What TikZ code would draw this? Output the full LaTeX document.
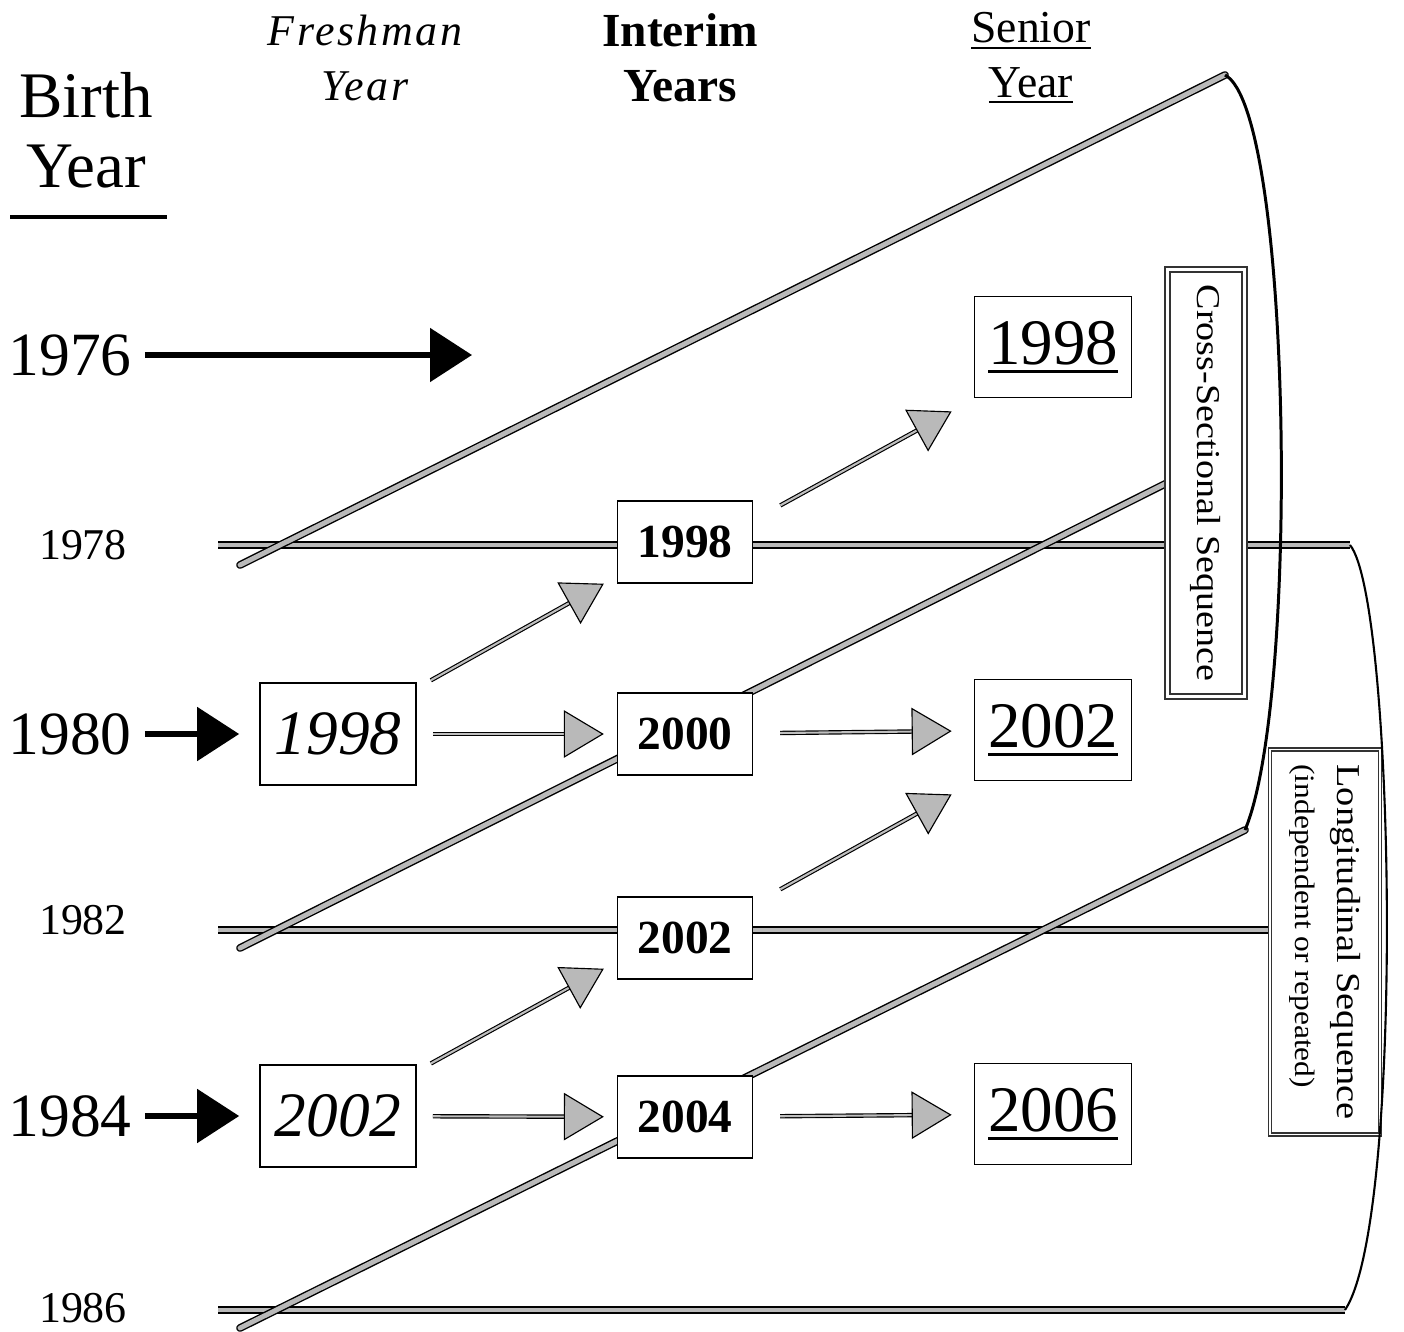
\documentclass[tikz,border=0pt]{standalone}
\usepackage{fontspec}
\setmainfont{Liberation Serif}
\usetikzlibrary{arrows.meta,positioning,backgrounds}
% underline with a heavier rule
\newcommand\senul[1]{\leavevmode\setbox0=\hbox{#1}\rlap{\rule[-0.13em]{\wd0}{0.05em}}\box0}
\tikzset{
  % year boxes
  frbox/.style={
    rectangle, draw=black, line width=1pt, fill=white,
    minimum width=3.12cm, minimum height=2.04cm, inner sep=0pt,
    font=\fontsize{36}{40}\selectfont\itshape},
  imbox/.style={
    rectangle, draw=black, line width=0.8pt, fill=white,
    minimum width=2.7cm, minimum height=1.64cm, inner sep=0pt,
    font=\fontsize{27}{30}\selectfont\bfseries},
  srbox/.style={
    rectangle, draw=black, line width=1pt, fill=white,
    minimum width=3.14cm, minimum height=2.02cm, inner sep=0pt,
    font=\fontsize{37}{40}\selectfont},
  % side labels
  sidebox/.style={
    rectangle, rotate=-90, draw=black!80, line width=0.7pt,
    double=white, double distance=2.2pt, fill=white, inner sep=0pt,
    font=\fontsize{19}{21}\selectfont},
  % birth years
  bigyear/.style={font=\fontsize{35}{38}\selectfont, inner sep=0pt},
  smallyear/.style={font=\fontsize{25}{28}\selectfont, inner sep=0pt},
  head/.style={font=\fontsize{25}{31}\selectfont, inner sep=0pt, align=center},
  % lines
  band/.style={draw=black, line width=0.8pt, double=gray!55, double distance=2.8pt},
  diag/.style={band, line cap=round},
  bigarrow/.style={-{Triangle[length=0.84cm, width=1.06cm]}, line width=3pt},
  garrow/.style={
    draw=black, line width=0.65pt, double=gray!50, double distance=1.2pt,
    -{Triangle[length=0.8cm, width=0.95cm, fill=gray!55]}},
  frside/.style={garrow, shorten <=0.32cm, shorten >=0.26cm},
  srside/.style={garrow, shorten <=0.54cm, shorten >=0.44cm},
  brace/.style={draw, line width=1.7pt},
}

\begin{document}
\begin{tikzpicture}[x=0.02cm, y=-0.02cm]
  \useasboundingbox (0,0) rectangle (1404,1332);
  % headers
  \node[head, font=\fontsize{37}{40}\selectfont] (birth) at (86,130) {Birth\\Year};
  \draw[line width=2.2pt] (10,217) -- (167,217);
  \node[head, font=\fontsize{25}{31}\selectfont\itshape\addfontfeatures{LetterSpace=6}] (fresh) at (365,58) {Freshman\\Year};
  \node[head, font=\fontsize{27}{31}\selectfont\bfseries] (interim) at (680,58) {Interim\\Years};
  \node[head, font=\fontsize{26}{31}\selectfont] (senior) at (1031,58) {\senul{Senior}\\\senul{Year}};

  % birth years
  \node[bigyear] (y1976) at (70,355) {1976};
  \node[smallyear] (y1978) at (83,545) {1978};
  \node[bigyear] (y1980) at (70,734) {1980};
  \node[smallyear] (y1982) at (83,920) {1982};
  \node[bigyear] (y1984) at (70,1116) {1984};
  \node[smallyear] (y1986) at (83,1308) {1986};

  % freshman, interim and senior years
  \node[frbox] (fr98) at (338,734) {1998};
  \node[frbox] (fr02) at (338,1116) {2002};
  \node[imbox] (im98) at (685,542) {1998};
  \node[imbox] (im00) at (685,734) {2000};
  \node[imbox] (im02) at (685,938) {2002};
  \node[imbox] (im04) at (685,1117) {2004};
  \node[srbox] (sr98) at (1053,347) {\senul{1998}};
  \node[srbox] (sr02) at (1053,730) {\senul{2002}};
  \node[srbox] (sr06) at (1053,1114) {\senul{2006}};

  % sequences
  \node[sidebox, minimum width=8.54cm, minimum height=1.54cm] (cross) at (1206,483)
    {\scalebox{1.14}[1]{Cross-Sectional Sequence}};
  \node[sidebox, double distance=1pt, minimum width=7.7cm, minimum height=2.2cm,
    align=left, font=\fontsize{18}{24}\selectfont] (longi) at (1325,942)
    {\scalebox{1.15}[1]{\fontsize{19}{21}\selectfont Longitudinal Sequence}\\
     \scalebox{1.12}[1]{\fontsize{16}{18}\selectfont (independent or repeated)}};

  % cohort lines
  \coordinate (h78) at (218,545);
  \coordinate (c78) at (1350,545);
  \coordinate (h82) at (218,930);
  \coordinate (h86) at (218,1310);
  \coordinate (c86) at (1345,1310);
  \coordinate (d78) at (240,565);
  \coordinate (cs1) at (1225,75);
  \coordinate (d82) at (240,948);
  \coordinate (d86) at (240,1328);
  \coordinate (cs2) at (1245,830);
  \begin{scope}[on background layer]
    \draw[band] (h78) -- (c78);
    \draw[band] (h82) -- (h82 -| longi.south);
    \draw[band] (h86) -- (c86);
    \draw[diag] (d78) -- (cs1);
    \draw[diag] (d82) -- (cross.south);
    \draw[diag] (d86) -- (cs2);
  \end{scope}
  \draw[brace] (cs1) .. controls +(67,35) and +(55,-130) .. (cs2);
  \draw[brace, line width=1.2pt] (c78) .. controls +(45,55) and +(60,-90) .. (c86);

  % entry arrows
  \coordinate (t1976) at (472,355);
  \draw[bigarrow, shorten <=0.26cm] (y1976) -- (t1976);
  \draw[bigarrow, shorten <=0.26cm, shorten >=0.4cm] (y1980) -- (fr98);
  \draw[bigarrow, shorten <=0.26cm, shorten >=0.4cm] (y1984) -- (fr02);

  % progress arrows
  \draw[garrow, shorten <=0.32cm] ([yshift=-0.12cm]fr98.north east) -- ([xshift=-0.26cm]im98.south west);
  \draw[frside] (fr98) -- (im00);
  \draw[garrow, shorten <=0.32cm] ([yshift=-0.14cm]fr02.north east) -- ([xshift=-0.26cm,yshift=0.22cm]im02.south west);
  \draw[frside] (fr02) -- (im04);
  \draw[garrow, shorten <=0.62cm] ([yshift=-0.4cm]im98.north east) -- ([xshift=-0.44cm,yshift=-0.26cm]sr98.south west);
  \draw[srside] (im00) -- (sr02);
  \draw[garrow, shorten <=0.62cm] ([yshift=-0.16cm]im02.north east) -- ([xshift=-0.44cm,yshift=-0.26cm]sr02.south west);
  \draw[srside] (im04) -- (sr06);
\end{tikzpicture}
\end{document}
